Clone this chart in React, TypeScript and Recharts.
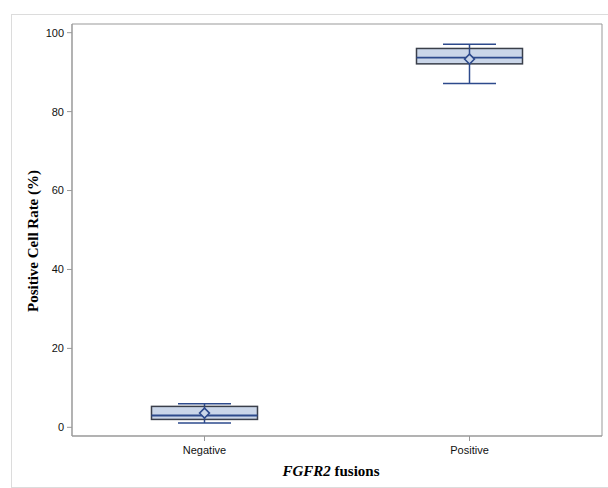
import React from 'react';
import { ComposedChart, Bar, XAxis, YAxis, ReferenceArea } from 'recharts';

const categories = ['Negative', 'Positive'];
const mins = [1.1, 87.1];
const q1s = [2.0, 92.1];
const medians = [3.0, 93.7];
const q3s = [5.3, 96.0];
const maxs = [6.0, 97.1];
const means = [3.6, 93.3];
const yTicks = [0, 20, 40, 60, 80, 100];

const data = categories.map((c, i) => ({
  name: c,
  range: [mins[i], maxs[i]],
  min: mins[i],
  q1: q1s[i],
  median: medians[i],
  q3: q3s[i],
  max: maxs[i],
  mean: means[i],
}));

const NAVY = '#2d4a8c';
const BOXFILL = '#cad6e9';

const BoxShape = (props: any) => {
  const { x, y, width, height, payload } = props;
  const { min, max, q1, q3, median, mean } = payload;
  const ppu = height / (max - min);
  const py = (v: number) => y + (max - v) * ppu;
  const cx = x + width / 2;
  const capHalf = width / 4;
  const d = 5;
  const my = py(mean);
  return (
    <g>
      <line x1={cx} x2={cx} y1={py(max)} y2={py(q3)} stroke={NAVY} strokeWidth={1.5} />
      <line x1={cx} x2={cx} y1={py(q1)} y2={py(min)} stroke={NAVY} strokeWidth={1.5} />
      <line x1={cx - capHalf} x2={cx + capHalf} y1={py(max)} y2={py(max)} stroke={NAVY} strokeWidth={1.5} />
      <line x1={cx - capHalf} x2={cx + capHalf} y1={py(min)} y2={py(min)} stroke={NAVY} strokeWidth={1.5} />
      <rect x={x} y={py(q3)} width={width} height={py(q1) - py(q3)} fill={BOXFILL} stroke="#3a3f4a" strokeWidth={1.5} />
      <line x1={x} x2={x + width} y1={py(median)} y2={py(median)} stroke={NAVY} strokeWidth={1.8} />
      <line x1={cx} x2={cx} y1={py(q3)} y2={py(q1)} stroke={NAVY} strokeWidth={1.5} />
      <path d={`M${cx},${my - d} L${cx + d},${my} L${cx},${my + d} L${cx - d},${my} Z`} fill={BOXFILL} stroke={NAVY} strokeWidth={1.5} />
    </g>
  );
};

export default function App() {
  return (
    <div style={{ position: 'absolute', left: 0, top: 0, width: 608, height: 488, background: '#fff' }}>
      <div style={{ position: 'absolute', left: 11, top: 14, width: 620, height: 472, border: '1px solid #dcdcdc' }} />
      <div style={{ position: 'absolute', left: 0, top: 0 }}>
        <ComposedChart
          width={608}
          height={488}
          data={data}
          margin={{ top: 24, right: 6, bottom: 22, left: 0 }}
          barCategoryGap="30%"
        >
          <XAxis
            dataKey="name"
            height={30}
            tickSize={5}
            tickMargin={5}
            stroke="#999"
            tick={{ fill: '#111', fontSize: 11, fontFamily: 'Liberation Sans, Arial, sans-serif' }}
          />
          <YAxis
            width={72}
            domain={[-2.2, 102.2]}
            ticks={yTicks}
            allowDataOverflow
            tickSize={5}
            tickMargin={3}
            stroke="#999"
            tick={{ fill: '#111', fontSize: 11, fontFamily: 'Liberation Sans, Arial, sans-serif' }}
          />
          <ReferenceArea y1={-2.2} y2={102.2} fill="none" stroke="#999" strokeWidth={1} ifOverflow="visible" />
          <Bar dataKey="range" shape={BoxShape} isAnimationActive={false} />
          <text
            x={33}
            y={241}
            transform="rotate(-90 33 241)"
            textAnchor="middle"
            dominantBaseline="central"
            style={{ fontFamily: 'Liberation Serif, Times New Roman, serif', fontWeight: 'bold', fontSize: 15, fill: '#000' }}
          >
            Positive Cell Rate (%)
          </text>
          <text
            x={331}
            y={476}
            textAnchor="middle"
            style={{ fontFamily: 'Liberation Serif, Times New Roman, serif', fontWeight: 'bold', fontSize: 15, fill: '#000' }}
          >
            <tspan fontStyle="italic">FGFR2</tspan>
            <tspan> fusions</tspan>
          </text>
        </ComposedChart>
      </div>
    </div>
  );
}
